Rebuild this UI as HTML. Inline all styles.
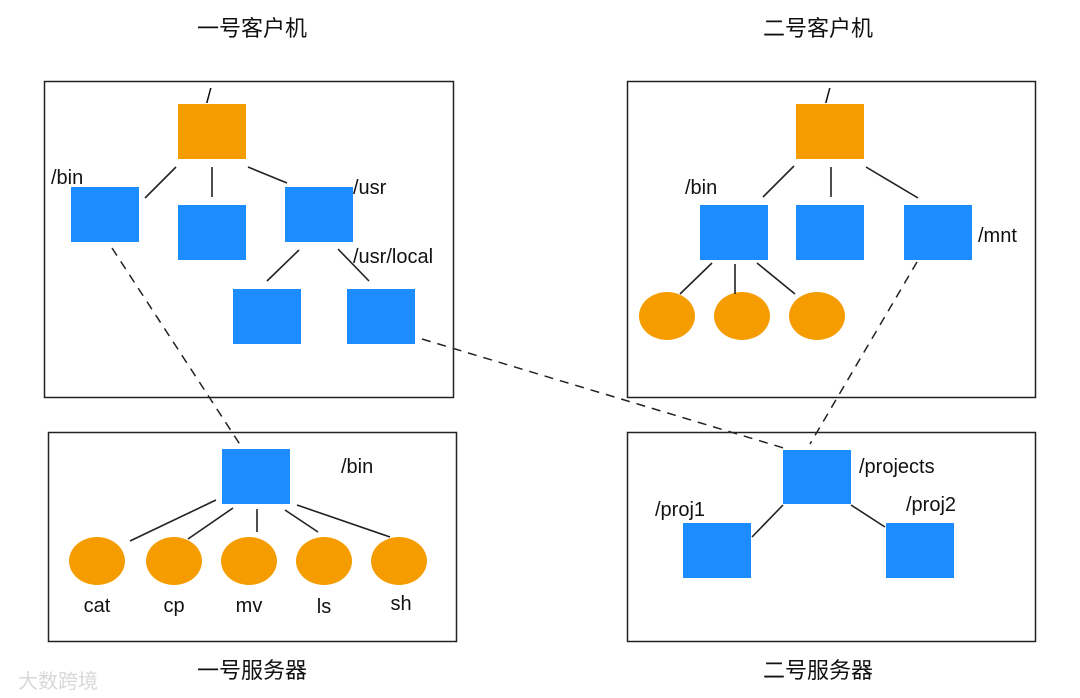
<!DOCTYPE html>
<html><head><meta charset="utf-8"><style>
html,body{margin:0;padding:0;background:#fff;}
svg{display:block;}
text{font-family:"Liberation Sans","Noto Sans CJK SC",sans-serif;fill:#111;}
</style></head><body>
<svg width="1080" height="698" viewBox="0 0 1080 698" xmlns="http://www.w3.org/2000/svg">
<rect width="1080" height="698" fill="#fff"/>
<g font-size="22" text-anchor="middle">
<text x="252" y="36">一号客户机</text>
<text x="818" y="36">二号客户机</text>
<text x="252" y="678">一号服务器</text>
<text x="818" y="678">二号服务器</text>
</g>
<g fill="none" stroke="#222" stroke-width="1.5">
<rect x="44.5" y="81.5" width="409" height="316"/>
<rect x="627.5" y="81.5" width="408" height="316"/>
<rect x="48.5" y="432.5" width="408" height="209"/>
<rect x="627.5" y="432.5" width="408" height="209"/>
</g>
<rect x="178" y="104" width="68" height="55" fill="#F59C00"/>
<g fill="#1C8CFF">
<rect x="71" y="187" width="68" height="55"/>
<rect x="178" y="205" width="68" height="55"/>
<rect x="285" y="187" width="68" height="55"/>
<rect x="233" y="289" width="68" height="55"/>
<rect x="347" y="289" width="68" height="55"/>
</g>
<g stroke="#222" stroke-width="1.6">
<line x1="176" y1="167" x2="145" y2="198"/>
<line x1="212" y1="167" x2="212" y2="197"/>
<line x1="248" y1="167" x2="287" y2="183"/>
<line x1="299" y1="250" x2="267" y2="281"/>
<line x1="338" y1="249" x2="369" y2="281"/>
</g>
<g font-size="20">
<text x="206" y="103">/</text>
<text x="51" y="184">/bin</text>
<text x="353" y="194">/usr</text>
<text x="353" y="263">/usr/local</text>
</g>
<rect x="796" y="104" width="68" height="55" fill="#F59C00"/>
<g fill="#1C8CFF">
<rect x="700" y="205" width="68" height="55"/>
<rect x="796" y="205" width="68" height="55"/>
<rect x="904" y="205" width="68" height="55"/>
</g>
<g fill="#F59C00">
<ellipse cx="667" cy="316" rx="28" ry="24"/>
<ellipse cx="742" cy="316" rx="28" ry="24"/>
<ellipse cx="817" cy="316" rx="28" ry="24"/>
</g>
<g stroke="#222" stroke-width="1.6">
<line x1="794" y1="166" x2="763" y2="197"/>
<line x1="831" y1="167" x2="831" y2="197"/>
<line x1="866" y1="167" x2="918" y2="198"/>
<line x1="712" y1="263" x2="680" y2="294"/>
<line x1="735" y1="264" x2="735" y2="294"/>
<line x1="757" y1="263" x2="795" y2="294"/>
</g>
<g font-size="20">
<text x="825" y="103">/</text>
<text x="685" y="194">/bin</text>
<text x="978" y="242">/mnt</text>
</g>
<rect x="222" y="449" width="68" height="55" fill="#1C8CFF"/>
<g fill="#F59C00">
<ellipse cx="97" cy="561" rx="28" ry="24"/>
<ellipse cx="174" cy="561" rx="28" ry="24"/>
<ellipse cx="249" cy="561" rx="28" ry="24"/>
<ellipse cx="324" cy="561" rx="28" ry="24"/>
<ellipse cx="399" cy="561" rx="28" ry="24"/>
</g>
<g stroke="#222" stroke-width="1.6">
<line x1="216" y1="500" x2="130" y2="541"/>
<line x1="233" y1="508" x2="188" y2="539"/>
<line x1="257" y1="509" x2="257" y2="532"/>
<line x1="285" y1="510" x2="318" y2="532"/>
<line x1="297" y1="505" x2="390" y2="537"/>
</g>
<g font-size="20" text-anchor="middle">
<text x="341" y="473" text-anchor="start">/bin</text>
<text x="97" y="612">cat</text>
<text x="174" y="612">cp</text>
<text x="249" y="612">mv</text>
<text x="324" y="613">ls</text>
<text x="401" y="610">sh</text>
</g>
<g fill="#1C8CFF">
<rect x="783" y="450" width="68" height="54"/>
<rect x="683" y="523" width="68" height="55"/>
<rect x="886" y="523" width="68" height="55"/>
</g>
<g stroke="#222" stroke-width="1.6">
<line x1="783" y1="505" x2="752" y2="537"/>
<line x1="851" y1="505" x2="885" y2="527"/>
</g>
<g font-size="20">
<text x="859" y="473">/projects</text>
<text x="655" y="516">/proj1</text>
<text x="906" y="511">/proj2</text>
</g>
<g stroke="#222" stroke-width="1.5" stroke-dasharray="9,7" fill="none">
<line x1="112" y1="248" x2="241" y2="446"/>
<line x1="422" y1="339" x2="787" y2="449"/>
<line x1="917" y1="262" x2="810" y2="444"/>
</g>
<text x="18" y="688" font-size="20" style="fill:#d8d8d8">大数跨境</text>
</svg>
</body></html>
